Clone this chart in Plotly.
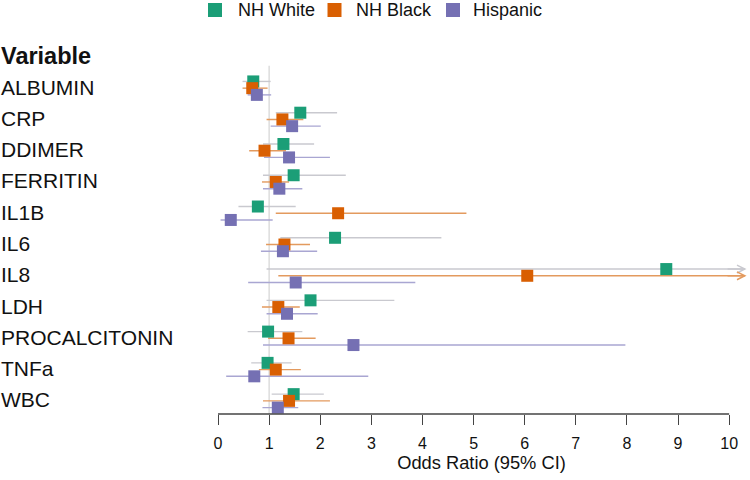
import plotly.graph_objects as go

variables = ["ALBUMIN", "CRP", "DDIMER", "FERRITIN", "IL1B", "IL6", "IL8", "LDH",
             "PROCALCITONIN", "TNFa", "WBC"]

white_or = [0.69, 1.61, 1.28, 1.48, 0.78, 2.29, 8.77, 1.81, 0.98, 0.97, 1.48]
white_lo = [0.48, 1.13, 0.88, 0.88, 0.40, 1.22, 0.95, 0.95, 0.58, 0.65, 1.05]
white_hi = [1.03, 2.33, 1.88, 2.50, 1.52, 4.37, 12.0, 3.45, 1.65, 1.44, 2.07]

black_or = [0.67, 1.26, 0.91, 1.13, 2.35, 1.30, 6.05, 1.18, 1.38, 1.13, 1.39]
black_lo = [0.48, 0.95, 0.61, 0.86, 1.13, 0.94, 1.18, 0.86, 0.98, 0.80, 0.88]
black_hi = [0.97, 1.67, 1.33, 1.39, 4.86, 1.80, 12.0, 1.60, 1.91, 1.62, 2.19]

hisp_or = [0.76, 1.45, 1.39, 1.20, 0.25, 1.27, 1.52, 1.35, 2.65, 0.71, 1.17]
hisp_lo = [0.58, 1.03, 0.90, 0.88, 0.05, 0.84, 0.59, 0.95, 0.88, 0.16, 0.87]
hisp_hi = [1.04, 2.01, 2.19, 1.65, 1.07, 1.94, 3.86, 1.95, 7.97, 2.94, 1.57]

tick_vals = [0, 1, 2, 3, 4, 5, 6, 7, 8, 9, 10]
x_title = "Odds Ratio (95% CI)"
header = "Variable"

XMAX = 10.31      # visible axis range
CLIP = 10.34      # where truncated CIs end (arrow tip)
Y_TOP, Y_BOT = -1.38, 10.42

# plot-area geometry (pixels) used to place the legend above the plot
ML, MR, MT, MB = 218, 5, 45, 66
W, H = 750, 480
PW, PH = W - ML - MR, H - MT - MB
legend_sq_px = [215, 334.5, 453]     # legend square centres (px)
legend_txt_px = [236, 354, 471]      # legend text start (px)
legend_y_px = 10

groups = [
    ("NH White", white_or, white_lo, white_hi, "#1b9e77", "#c9c9cf", -0.215),
    ("NH Black", black_or, black_lo, black_hi, "#d95f02", "#e39a5e", 0.0),
    ("Hispanic", hisp_or, hisp_lo, hisp_hi, "#7570b3", "#a9a6d2", 0.215),
]

fig = go.Figure()

# reference line at OR = 1
fig.add_shape(type="line", x0=1, x1=1, y0=-0.72, y1=Y_BOT, xref="x", yref="y",
              line=dict(color="#d4d4d4", width=1.2), layer="below")

annots = []
for name, orv, lo, hi, col, lcol, off in groups:
    xs, ys = [], []
    for i in range(len(variables)):
        y = i + off
        end = min(hi[i], XMAX)
        xs += [lo[i], end, None]
        ys += [y, y, None]
        if hi[i] > XMAX:
            annots.append(dict(x=CLIP, y=y, ax=CLIP - 0.4, ay=y, xref="x", yref="y",
                               axref="x", ayref="y", text="", showarrow=True,
                               arrowhead=5, arrowsize=1.1, arrowwidth=1.4,
                               arrowcolor=lcol))
    fig.add_trace(go.Scatter(x=xs, y=ys, mode="lines", line=dict(color=lcol, width=1.4),
                             showlegend=False, hoverinfo="skip"))

for name, orv, lo, hi, col, lcol, off in groups:
    fig.add_trace(go.Scatter(x=orv, y=[i + off for i in range(len(variables))],
                             mode="markers", name=name, showlegend=False,
                             marker=dict(symbol="square", size=12, color=col,
                                         line=dict(width=0))))

# legend (squares + names) above the plot
ly = (PH + MT - legend_y_px) / PH
for (name, orv, lo, hi, col, lcol, off), sx, tx in zip(groups, legend_sq_px, legend_txt_px):
    fig.add_shape(type="rect", xref="paper", yref="paper",
                  xsizemode="pixel", ysizemode="pixel",
                  xanchor=(sx - ML) / PW, yanchor=ly,
                  x0=-7, x1=7, y0=-7, y1=7, fillcolor=col, line=dict(width=0))
    annots.append(dict(x=(tx - ML) / PW, y=ly, xref="paper", yref="paper",
                       xanchor="left", yanchor="middle", text=name, showarrow=False,
                       font=dict(size=18, color="#111111")))

# axis line from 0 to 10
fig.add_shape(type="line", x0=tick_vals[0], x1=tick_vals[-1], y0=0, y1=0,
              xref="x", yref="paper", line=dict(color="#444444", width=1.3))

# row labels
annots.append(dict(x=0, xref="paper", xanchor="left", xshift=-219, y=-1, yref="y",
                   text="<b>" + header + "</b>", showarrow=False, yshift=1,
                   font=dict(size=23.5, color="#111111")))
for i, v in enumerate(variables):
    annots.append(dict(x=0, xref="paper", xanchor="left", xshift=-219, y=i, yref="y",
                       text=v, showarrow=False, yshift=1,
                       font=dict(size=21, color="#111111")))

fig.update_layout(
    width=W, height=H,
    margin=dict(l=ML, r=MR, t=MT, b=MB),
    plot_bgcolor="white", paper_bgcolor="white",
    font=dict(family="Liberation Sans, Arial, sans-serif", color="#111111"),
    annotations=annots,
    showlegend=False,
    xaxis=dict(range=[0, XMAX], tickvals=tick_vals, ticks="outside", ticklen=10,
               tickcolor="#444444", tickwidth=1.3, showline=False, showgrid=False,
               zeroline=False, tickfont=dict(size=16), ticklabelstandoff=5,
               title=dict(text=x_title, font=dict(size=18.3), standoff=3)),
    yaxis=dict(range=[Y_BOT, Y_TOP], showticklabels=False, showgrid=False,
               zeroline=False, showline=False, ticks=""),
)

fig.write_html("out.html", config={"displayModeBar": False},
               post_script="document.body.style.margin='0px';")
